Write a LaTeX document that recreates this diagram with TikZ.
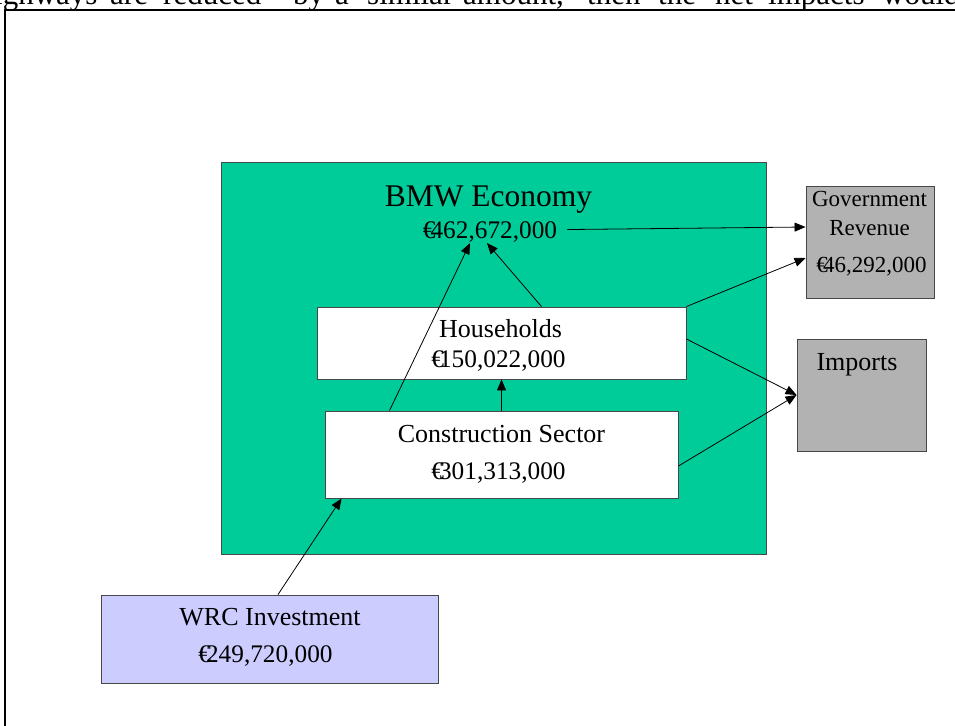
\documentclass[tikz,border=0pt]{standalone}
\usepackage{fontspec}
\setmainfont{Liberation Serif}
\usetikzlibrary{arrows.meta}
% euro sign set tight against the figures that follow it
\newcommand{\eur}{€\kern-0.2em}
\definecolor{econgreen}{HTML}{00CC99}
\definecolor{sinkgray}{HTML}{B2B2B2}
\definecolor{investblue}{HTML}{CCCCFF}
\begin{document}
\begin{tikzpicture}[x=1pt,y=-1pt,
  box/.style={draw=black!72, line width=0.9pt, inner sep=0pt, rectangle},
  flow/.style={-{Triangle[length=11pt,width=9pt]}, line width=0.8pt, draw=black},
  lab/.style={font=\fontsize{26}{30}\selectfont, anchor=base, inner sep=0pt},
  val/.style={font=\fontsize{25.3}{30}\selectfont, anchor=base, inner sep=0pt},
  glab/.style={font=\fontsize{23}{27}\selectfont, anchor=base, inner sep=0pt},
  biglab/.style={font=\fontsize{31.5}{36}\selectfont, anchor=base, inner sep=0pt},
  bodytext/.style={font=\fontsize{31}{36}\selectfont, anchor=base west, inner sep=0pt}]
\useasboundingbox (0,0) rectangle (955,725);

% running text line above the figure frame, cut by the page edge
\begin{scope}
\clip (0,0) rectangle (955,725);
\node[bodytext] (w1) at (-6,4.8) {ighways};
\node[bodytext] (w2) at (110,4.8) {are};
\node[bodytext] (w3) at (163,4.8) {reduced};
\node[bodytext] (w4) at (293,4.8) {by};
\node[bodytext] (w5) at (335,4.8) {a};
\node[bodytext] (w6) at (367,4.8) {similar};
\node[bodytext] (w7) at (463,4.8) {amount,};
\node[bodytext] (w8) at (587,4.8) {then};
\node[bodytext] (w9) at (658,4.8) {the};
\node[bodytext] (w10) at (715,4.8) {net};
\node[bodytext] (w11) at (768,4.8) {impacts};
\node[bodytext] (w12) at (882,4.8) {would};
% figure frame
\draw[line width=2pt] (5,740) -- (5,10.3) -- (970,10.3);
\end{scope}

% regional economy
\node[box, fill=econgreen, minimum width=545pt, minimum height=392pt] (econ) at (493.5,358) {};
\node[biglab] (bmwtitle) at (488.5,206.7) {BMW Economy};
\node[val] (bmwval) at (490,238) {\eur462,672,000};

% sectors inside the economy
\node[box, fill=white, minimum width=369pt, minimum height=72pt] (hh) at (501.5,343) {};
\node[lab] (hhname) at (500.5,337.7) {Households};
\node[val] (hhval) at (498.5,367.3) {\eur150,022,000};

\node[box, fill=white, minimum width=353pt, minimum height=87pt] (cs) at (501.5,454.5) {};
\node[lab] (csname) at (501.5,442.3) {Construction Sector};
\node[val] (csval) at (498.5,479) {\eur301,313,000};

% leakages
\node[box, fill=sinkgray, minimum width=128pt, minimum height=112pt] (gov) at (870,242) {};
\node[glab] (govname1) at (869.5,206.7) {Government};
\node[glab] (govname2) at (869.5,235) {Revenue};
\node[glab] (govval) at (871.5,272.7) {\eur46,292,000};

\node[box, fill=sinkgray, minimum width=129pt, minimum height=112pt] (imp) at (861.5,395) {};
\node[lab] (impname) at (857,370) {Imports};

% injection
\node[box, fill=investblue, minimum width=337pt, minimum height=88pt] (wrc) at (269.5,639) {};
\node[lab] (wrcname) at (270,625.7) {WRC Investment};
\node[val] (wrcval) at (265.5,662.7) {\eur249,720,000};

% flows
\draw[flow] ([xshift=8.5pt]wrc.north) -- ([xshift=17pt]cs.south west);
\draw[flow] (cs.north) -- (hh.south);
\draw[flow] ([xshift=-112pt]cs.north) -- ([xshift=-20pt,yshift=-1pt]bmwval.south);
\draw[flow] ([xshift=40pt]hh.north) -- ([xshift=-3pt,yshift=-1pt]bmwval.south);
\draw[flow] ([xshift=10pt,yshift=2pt]bmwval.east) -- ([yshift=15pt]gov.west);
\draw[flow] (hh.north east) -- ([yshift=-16pt]gov.west);
\draw[flow] ([yshift=4pt]hh.east) -- (imp.west);
\draw[flow] ([yshift=-11.5pt]cs.east) -- (imp.west);
\end{tikzpicture}
\end{document}
